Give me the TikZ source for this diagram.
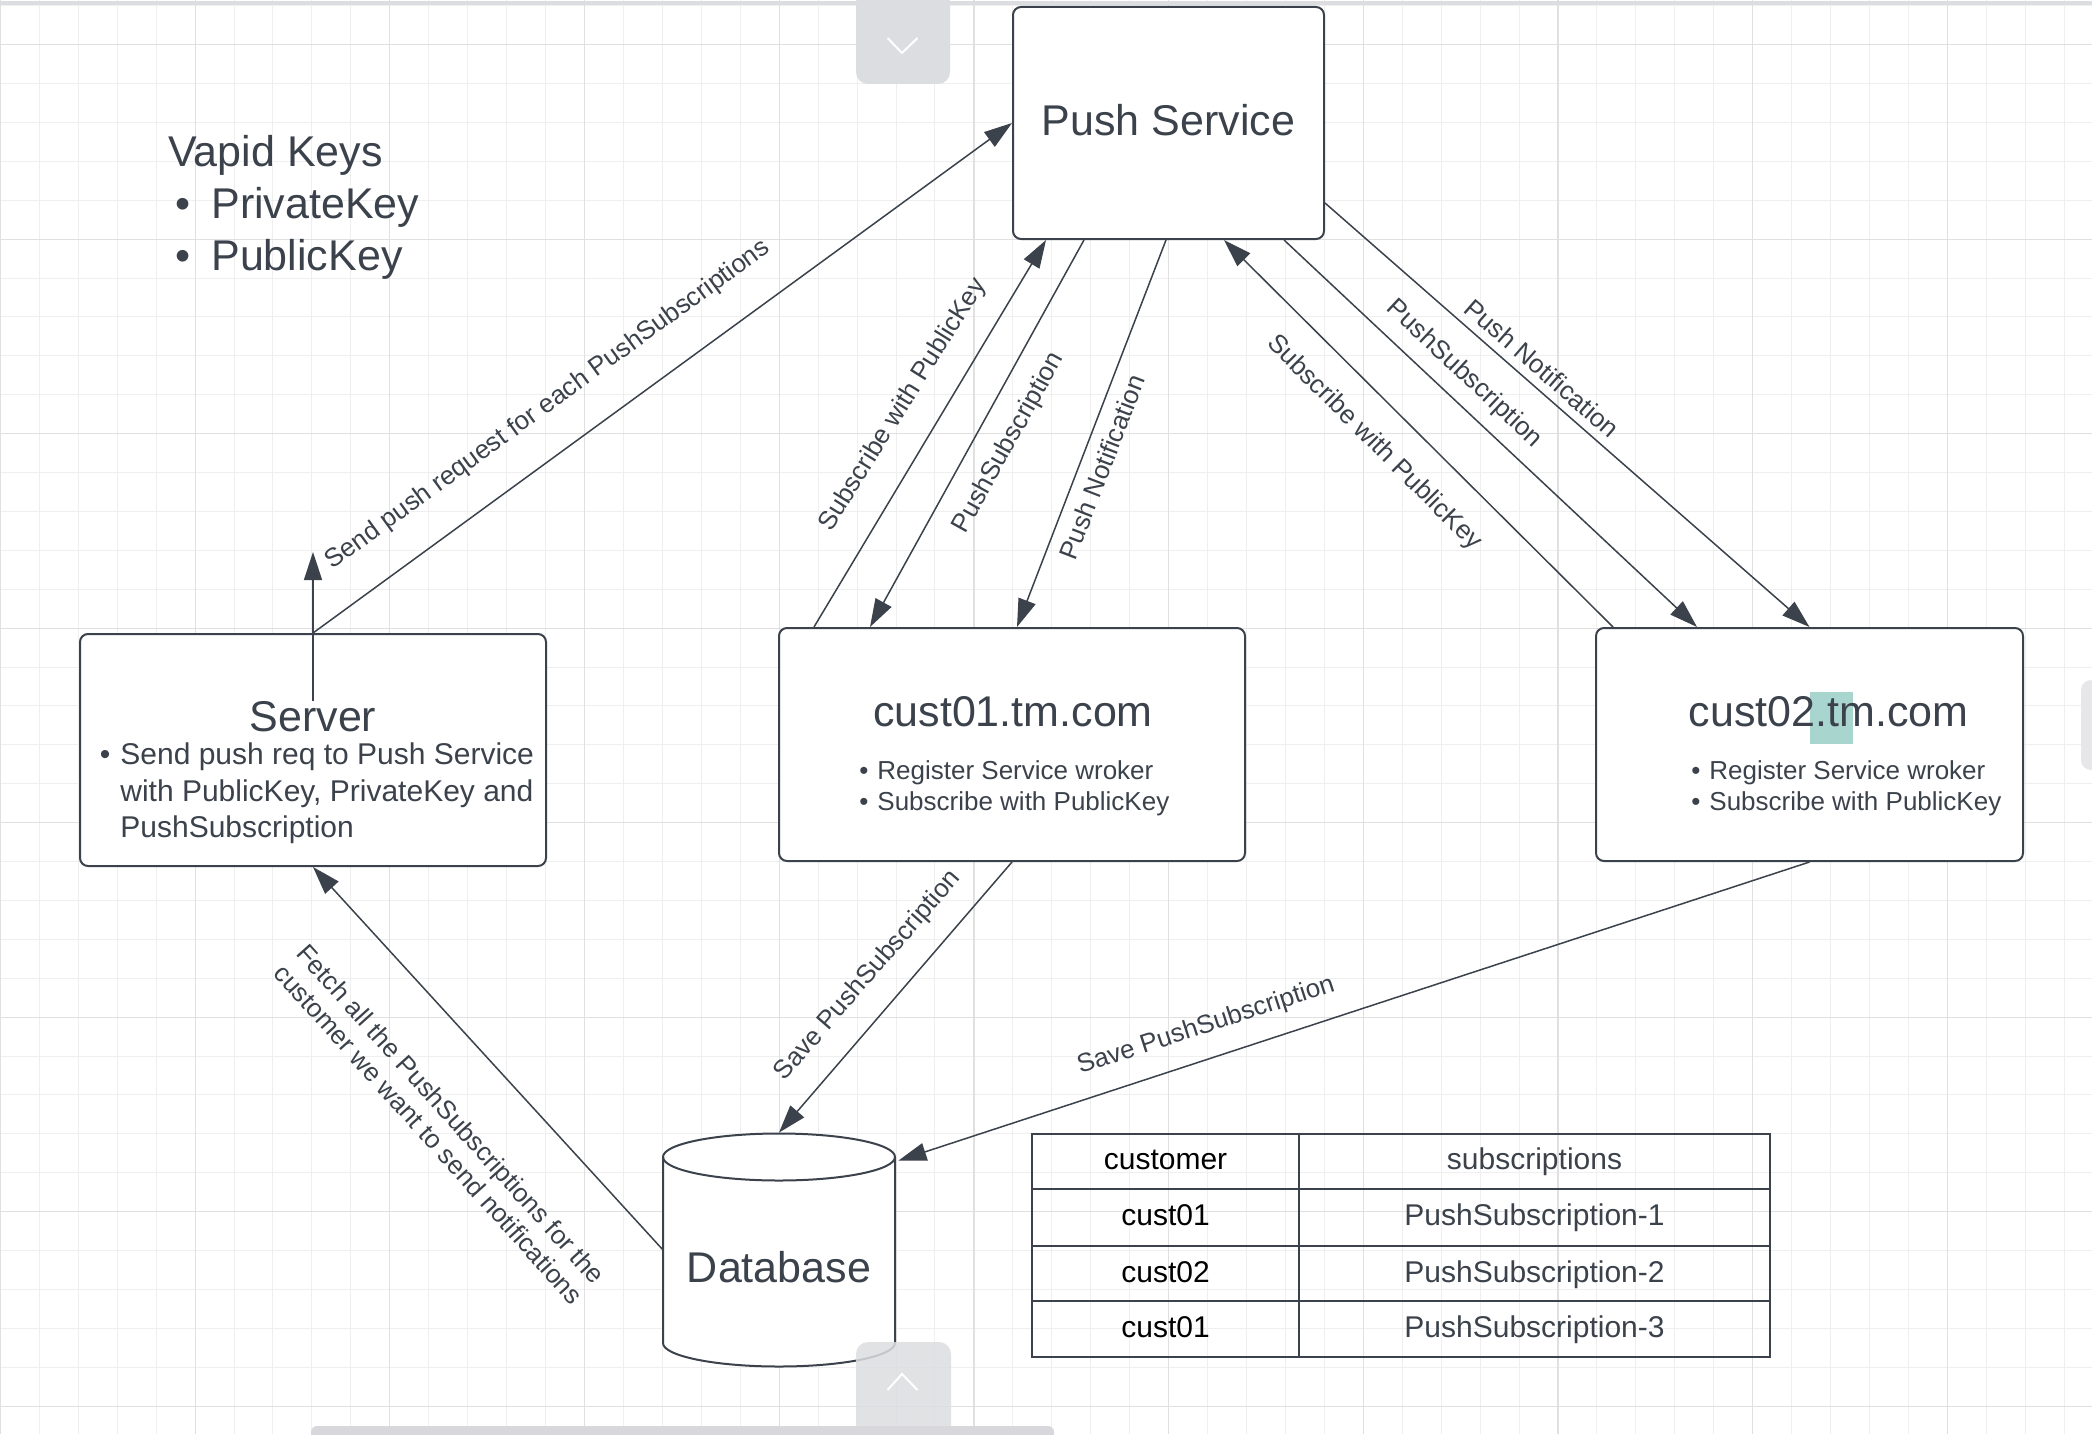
\documentclass[tikz,border=0pt]{standalone}
\usepackage{fontspec}
\setmainfont{Liberation Sans}
\usetikzlibrary{arrows.meta,calc}
\definecolor{ink}{HTML}{3B424B}
\definecolor{gridminor}{HTML}{EFEFEF}
\definecolor{gridmajor}{HTML}{E0E0E0}
\definecolor{uigray}{HTML}{DCDDE0}
\definecolor{hilite}{RGB}{168,214,206}
\begin{document}
\begin{tikzpicture}[x=0.5pt,y=-0.5pt,
  box/.style={draw=ink,line width=1pt,rounded corners=4pt,fill=white,inner sep=0pt},
  conn/.style={draw=ink,line width=0.75pt,-{Triangle[length=14pt,width=9pt]}},
  lbl/.style={text=ink,font=\fontsize{13pt}{15pt}\selectfont,inner sep=0pt},
  title/.style={text=ink,font=\fontsize{21.5pt}{26pt}\selectfont,inner sep=0pt,anchor=base},
  btxt/.style={text=ink,font=\fontsize{15pt}{18pt}\selectfont,inner sep=0pt,anchor=base},
  stxt/.style={text=ink,font=\fontsize{13pt}{16pt}\selectfont,inner sep=0pt,anchor=base},
  ttxt/.style={text=ink,font=\fontsize{15pt}{18pt}\selectfont,inner sep=0pt,anchor=base},
  uitab/.style={fill=uigray,rounded corners=5pt,draw=none}
]
\useasboundingbox (0,0) rectangle (2092,1434);
\fill[white] (0,0) rectangle (2092,1434);
% grid
\foreach \i in {0,...,53} {
  \pgfmathsetmacro\xx{0.4+38.94*\i}
  \draw[gridminor,line width=0.5pt] (\xx,0) -- (\xx,1434);
}
\foreach \i in {0,...,36} {
  \pgfmathsetmacro\yy{5.7+38.9*\i}
  \draw[gridminor,line width=0.5pt] (0,\yy) -- (2092,\yy);
}
\foreach \i in {0,...,10} {
  \pgfmathsetmacro\xx{0.4+194.7*\i}
  \draw[gridmajor,line width=0.6pt] (\xx,0) -- (\xx,1434);
}
\foreach \i in {0,...,7} {
  \pgfmathsetmacro\yy{44.6+194.5*\i}
  \draw[gridmajor,line width=0.6pt] (0,\yy) -- (2092,\yy);
}
\draw[uigray,line width=2pt] (0,3) -- (2092,3);

% boxes
\node[box,minimum width=155.5pt,minimum height=116pt] (ps) at (1168.5,123) {};
\node[box,minimum width=233pt,minimum height=116pt] (server) at (313,750) {};
\node[box,minimum width=233pt,minimum height=116.5pt] (c1) at (1012,744.5) {};
\node[box,minimum width=213.5pt,minimum height=116.5pt] (c2) at (1809.5,744.5) {};
\node[minimum width=116pt,minimum height=116.5pt,inner sep=0pt] (db) at (779,1249.5) {};

% box texts
\node[title] (pst) at (1168.5,135) {Push Service};
\node[title] (st) at (313,731) {Server};
\node[btxt] (sb1) at (105,764) {•};
\node[btxt,anchor=base west] (s1) at (120,764) {Send push req to Push Service};
\node[btxt,anchor=base west] (s2) at (120,801) {with PublicKey, PrivateKey and};
\node[btxt,anchor=base west] (s3) at (120,837) {PushSubscription};

\node[title] (c1t) at (1013,726) {cust01.tm.com};
\node[stxt] (c1b1) at (864,779) {•};
\node[stxt,anchor=base west] (c1l1) at (877,779) {Register Service wroker};
\node[stxt] (c1b2) at (864,810) {•};
\node[stxt,anchor=base west] (c1l2) at (877,810) {Subscribe with PublicKey};

\fill[hilite] (1810,691.5) rectangle (1853,743.6);
\node[title] (c2t) at (1828.5,726) {cust02.tm.com};
\node[stxt] (c2b1) at (1696,779) {•};
\node[stxt,anchor=base west] (c2l1) at (1709,779) {Register Service wroker};
\node[stxt] (c2b2) at (1696,810) {•};
\node[stxt,anchor=base west] (c2l2) at (1709,810) {Subscribe with PublicKey};

% vapid keys
\node[title,anchor=base west] (vk) at (168,166) {Vapid Keys};
\node[title] (vb1) at (183,218) {•};
\node[title,anchor=base west] (vk1) at (211,218) {PrivateKey};
\node[title] (vb2) at (183,270) {•};
\node[title,anchor=base west] (vk2) at (211,270) {PublicKey};

% database cylinder
\path[draw=ink,line width=1pt,fill=white] (663,1157) -- (663,1343)
  arc[start angle=180,end angle=360,x radius=58pt,y radius=11.75pt] -- (895,1157)
  arc[start angle=0,end angle=180,x radius=58pt,y radius=11.75pt] -- cycle;
\draw[ink,line width=1pt] (663,1157) arc[start angle=180,end angle=360,x radius=58pt,y radius=11.75pt];
\node[title] (dbt) at (779,1282) {Database};

% connectors
\coordinate (vtop) at (313,552);
\draw[conn] ($(server.center)+(0,-49)$) -- (vtop);
\draw[conn] (server.north) -- (ps.west);
\draw[conn] ($(c1.north west)+(36,0)$) -- ($(ps.south west)+(34,0)$);
\draw[conn] ($(ps.south west)+(72,0)$) -- ($(c1.north west)+(92,0)$);
\draw[conn] ($(ps.south west)+(154,0)$) -- ($(c1.north west)+(239,0)$);
\draw[conn] ($(c2.north west)+(18,0)$) -- ($(ps.south west)+(212,0)$);
\draw[conn] ($(ps.south west)+(272,0)$) -- ($(c2.north west)+(102,0)$);
\draw[conn] ($(ps.east)+(0,80)$) -- (c2.north);
\draw[conn] (c1.south) -- (db.north);
\draw[conn] (c2.south) -- ($(db.north east)+(3,28)$);
\draw[conn] (db.west) -- (server.south);

% labels
\node[lbl,rotate=36] (l1) at (548,405) {Send push request for each PushSubscriptions};
\node[lbl,rotate=58] (l2) at (903,405) {Subscribe with PublicKey};
\node[lbl,rotate=61] (l3) at (1009,443) {PushSubscription};
\node[lbl,rotate=69] (l4) at (1102,467) {Push Notification};
\node[lbl,rotate=-45] (l5) at (1374,443) {Subscribe with PublicKey};
\node[lbl,rotate=-43] (l6) at (1464,374) {PushSubscription};
\node[lbl,rotate=-41] (l7) at (1542,368) {Push Notification};
\node[lbl,rotate=49] (l8) at (868,976) {Save PushSubscription};
\node[lbl,rotate=18] (l9) at (1206,1026) {Save PushSubscription};
\node[lbl,rotate=-48,align=center] (l10) at (440,1124) {Fetch all the PushSubscriptions for the\\customer we want to send notifications};

% table
\draw[ink,line width=1.2pt] (1032,1134) rectangle (1770,1357);
\draw[ink,line width=1.2pt] (1032,1189) -- (1770,1189);
\draw[ink,line width=1.2pt] (1032,1246) -- (1770,1246);
\draw[ink,line width=1.2pt] (1032,1301) -- (1770,1301);
\draw[ink,line width=1.2pt] (1299,1134) -- (1299,1357);
\node[ttxt,text=black] (th1) at (1165.5,1169.5) {customer};
\node[ttxt] (th2) at (1534.5,1169.5) {subscriptions};
\node[ttxt,text=black] (r1a) at (1165.5,1225.5) {cust01};
\node[ttxt] (r1b) at (1534.5,1225.5) {PushSubscription-1};
\node[ttxt,text=black] (r2a) at (1165.5,1282) {cust02};
\node[ttxt] (r2b) at (1534.5,1282) {PushSubscription-2};
\node[ttxt,text=black] (r3a) at (1165.5,1337) {cust01};
\node[ttxt] (r3b) at (1534.5,1337) {PushSubscription-3};

% UI overlays
\fill[uigray,rounded corners=6pt] (856,-10) rectangle (950,84);
\draw[white,line width=1pt] (887.5,38) -- (902,53) -- (917.5,38);
\fill[uigray,opacity=0.85,rounded corners=6pt] (856,1342) rectangle (951,1444);
\draw[white,line width=1pt] (887.5,1390) -- (902,1374) -- (917.5,1390);
\fill[uigray!90!black!20!uigray,rounded corners=3pt] (311,1426) rectangle (1054,1440);
\fill[uigray!70!white,rounded corners=5pt] (2081,680) rectangle (2100,770);
\end{tikzpicture}
\end{document}
